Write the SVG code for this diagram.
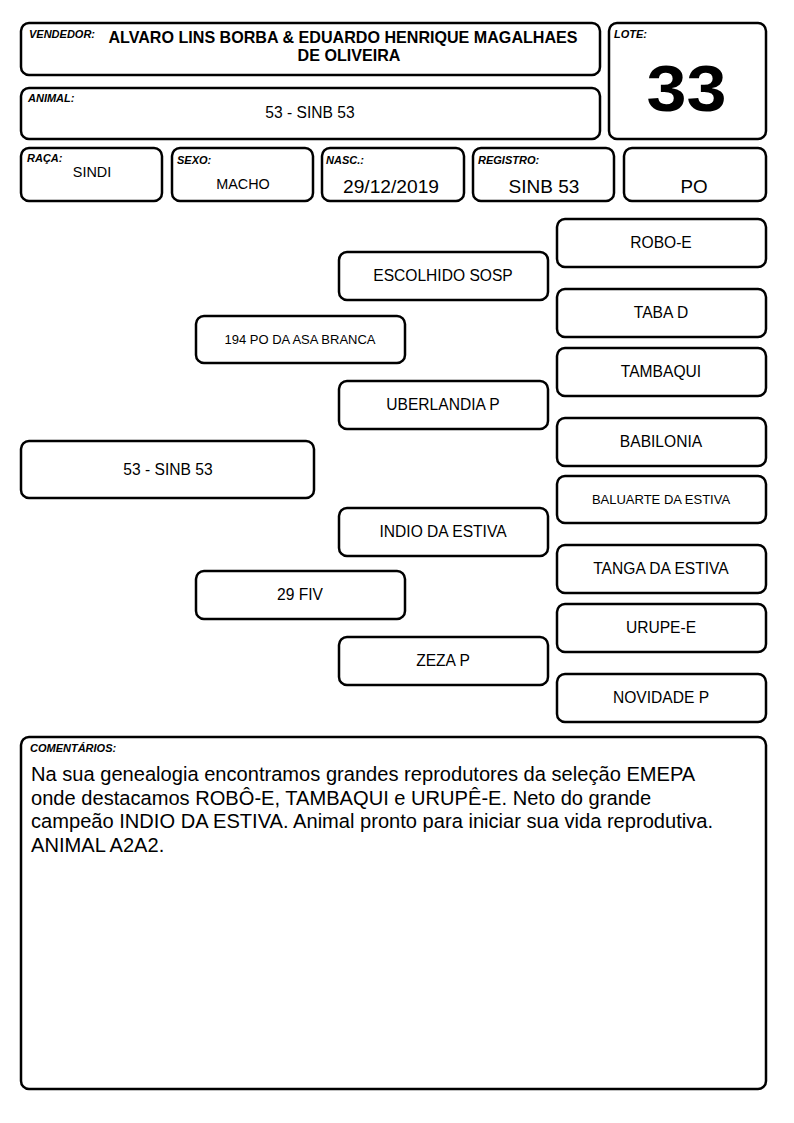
<svg xmlns="http://www.w3.org/2000/svg" width="794" height="1123" viewBox="0 0 794 1123">
<style>
.b{fill:#fff;stroke:#000;stroke-width:2.5}
text{font-family:"Liberation Sans",Arial,sans-serif;fill:#000}
.lb{font-size:11px;font-weight:bold;font-style:italic}
.c{text-anchor:middle}
.p{font-size:15.6px}
.s{font-size:13px}
</style>
<rect width="794" height="1123" fill="#fff"/>
<g id="vendedor"><rect class="b" x="21" y="23" width="579" height="52" rx="8"/><text class="lb" x="29" y="38">VENDEDOR:</text><text class="c" x="343" y="43" font-size="16.1" font-weight="bold">ALVARO LINS BORBA &amp; EDUARDO HENRIQUE MAGALHAES</text><text class="c" x="349" y="61" font-size="16.1" font-weight="bold">DE OLIVEIRA</text></g>
<g id="lote"><rect class="b" x="609" y="23" width="157" height="116" rx="8"/><text class="lb" x="614" y="38">LOTE:</text><text class="c" x="686.5" y="111" font-size="64" font-weight="bold" textLength="80" lengthAdjust="spacingAndGlyphs">33</text></g>
<g id="animal"><rect class="b" x="21" y="88" width="579" height="51" rx="8"/><text class="lb" x="28" y="102">ANIMAL:</text><text class="c p" x="310" y="118">53 - SINB 53</text></g>
<g id="raca"><rect class="b" x="21" y="148" width="141" height="53" rx="8"/><text class="lb" x="27" y="162">RAÇA:</text><text class="c" x="92" y="177" font-size="14.4">SINDI</text></g>
<g id="sexo"><rect class="b" x="172" y="148" width="141" height="53" rx="8"/><text class="lb" x="177" y="164">SEXO:</text><text class="c" x="243" y="189" font-size="14.4">MACHO</text></g>
<g id="nasc"><rect class="b" x="322" y="148" width="142" height="53" rx="8"/><text class="lb" x="326" y="164">NASC.:</text><text class="c" x="391" y="193" font-size="19.2">29/12/2019</text></g>
<g id="registro"><rect class="b" x="473" y="148" width="141" height="53" rx="8"/><text class="lb" x="478" y="164">REGISTRO:</text><text class="c" x="544" y="193" font-size="19">SINB 53</text></g>
<g id="po"><rect class="b" x="624" y="148" width="142" height="53" rx="8"/><text class="c" x="694" y="193" font-size="18.8">PO</text></g>
<g id="connectors"></g>
<g id="n-main"><rect class="b" x="21" y="441" width="293" height="57" rx="8"/><text class="c p" x="168" y="475">53 - SINB 53</text></g>
<g id="n-194"><rect class="b" x="196" y="316" width="209" height="47" rx="8"/><text class="c s" x="300" y="344">194 PO DA ASA BRANCA</text></g>
<g id="n-29fiv"><rect class="b" x="196" y="571" width="209" height="48" rx="8"/><text class="c p" x="300" y="600">29 FIV</text></g>
<g id="n-escolhido"><rect class="b" x="339" y="252" width="209" height="48" rx="8"/><text class="c p" x="443" y="281">ESCOLHIDO SOSP</text></g>
<g id="n-uberlandia"><rect class="b" x="339" y="381" width="209" height="48" rx="8"/><text class="c p" x="443" y="410">UBERLANDIA P</text></g>
<g id="n-indio"><rect class="b" x="339" y="508" width="209" height="48" rx="8"/><text class="c p" x="443" y="537">INDIO DA ESTIVA</text></g>
<g id="n-zeza"><rect class="b" x="339" y="637" width="209" height="48" rx="8"/><text class="c p" x="443" y="666">ZEZA P</text></g>
<g id="n-robo"><rect class="b" x="557" y="219" width="209" height="48" rx="8"/><text class="c p" x="661" y="248">ROBO-E</text></g>
<g id="n-taba"><rect class="b" x="557" y="289" width="209" height="48" rx="8"/><text class="c p" x="661" y="318">TABA D</text></g>
<g id="n-tambaqui"><rect class="b" x="557" y="348" width="209" height="48" rx="8"/><text class="c p" x="661" y="377">TAMBAQUI</text></g>
<g id="n-babilonia"><rect class="b" x="557" y="418" width="209" height="48" rx="8"/><text class="c p" x="661" y="447">BABILONIA</text></g>
<g id="n-baluarte"><rect class="b" x="557" y="476" width="209" height="47" rx="8"/><text class="c s" x="661" y="504">BALUARTE DA ESTIVA</text></g>
<g id="n-tanga"><rect class="b" x="557" y="545" width="209" height="48" rx="8"/><text class="c p" x="661" y="574">TANGA DA ESTIVA</text></g>
<g id="n-urupe"><rect class="b" x="557" y="604" width="209" height="48" rx="8"/><text class="c p" x="661" y="633">URUPE-E</text></g>
<g id="n-novidade"><rect class="b" x="557" y="674" width="209" height="48" rx="8"/><text class="c p" x="661" y="703">NOVIDADE P</text></g>
<g id="comentarios"><rect class="b" x="21" y="737" width="745" height="352" rx="8"/><text class="lb" x="30" y="752">COMENTÁRIOS:</text>
<text font-size="20.1"><tspan x="31" y="781">Na sua genealogia encontramos grandes reprodutores da seleção EMEPA</tspan><tspan x="31" y="804.5">onde destacamos ROBÔ-E, TAMBAQUI e URUPÊ-E. Neto do grande</tspan><tspan x="31" y="828">campeão INDIO DA ESTIVA. Animal pronto para iniciar sua vida reprodutiva.</tspan><tspan x="31" y="851.5">ANIMAL A2A2.</tspan></text></g>
</svg>
